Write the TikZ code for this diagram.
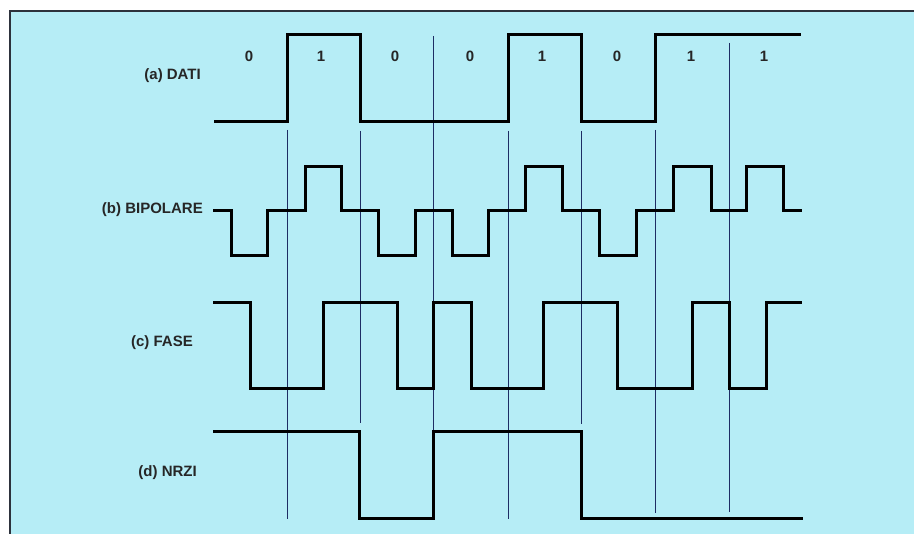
\documentclass[tikz,border=0pt]{standalone}
\usepackage{fontspec}
\setmainfont{Liberation Sans}
\definecolor{bgcyan}{RGB}{182,237,246}
\definecolor{gridblue}{RGB}{30,45,100}
\definecolor{framegray}{RGB}{45,50,60}
\begin{document}
\begin{tikzpicture}[x=1pt,y=-1pt,
  sig/.style={line width=3pt,line join=miter,line cap=butt,black},
  gridline/.style={line width=1pt,gridblue},
  lbl/.style={font=\fontsize{15}{18}\bfseries\selectfont,inner sep=0pt,anchor=east,text=black!85},
  bit/.style={font=\fontsize{15}{18}\bfseries\selectfont,inner sep=0pt,text=black!85}]
\useasboundingbox (0,0) rectangle (914,534);
\fill[white] (0,0) rectangle (914,534);
\fill[bgcyan] (10,11) rectangle (914,534);
\draw[framegray,line width=1.5pt] (10,540) -- (10,11) -- (920,11);
% grid lines
\draw[gridline] (287,130) -- (287,519);
\draw[gridline] (360,131) -- (360,423);
\draw[gridline] (433,36) -- (433,519);
\draw[gridline] (508,131) -- (508,519);
\draw[gridline] (581,131) -- (581,424);
\draw[gridline] (655,130) -- (655,513);
\draw[gridline] (729,43) -- (729,512);
% labels
\node[lbl] (la) at (201,76) {(a) DATI};
\node[lbl] (lb) at (203,210) {(b) BIPOLARE};
\node[lbl] (lc) at (193,343) {(c) FASE};
\node[lbl] (ld) at (197,473) {(d) NRZI};
% bits
\node[bit] (b0) at (249,56) {0};
\node[bit] (b1) at (321,56) {1};
\node[bit] (b2) at (395,56) {0};
\node[bit] (b3) at (470,56) {0};
\node[bit] (b4) at (542,56) {1};
\node[bit] (b5) at (617,56) {0};
\node[bit] (b6) at (691,56) {1};
\node[bit] (b7) at (764,56) {1};
% (a) data
\draw[sig] (214,122) -- (287,122) -- (287,35) -- (360,35) -- (360,122) -- (508,122) -- (508,35) -- (581,35) -- (581,122) -- (655,122) -- (655,35) -- (801,35);
% (b) bipolar
\draw[sig] (213,211) -- (231,211) -- (231,256) -- (267,256) -- (267,211) -- (305,211) -- (305,167) -- (341,167) -- (341,211) -- (378,211) -- (378,256) -- (415,256) -- (415,211) -- (452,211) -- (452,256) -- (488,256) -- (488,211) -- (525,211) -- (525,167) -- (562,167) -- (562,211) -- (599,211) -- (599,256) -- (636,256) -- (636,211) -- (673,211) -- (673,167) -- (711,167) -- (711,211) -- (746,211) -- (746,167) -- (783,167) -- (783,211) -- (802,211);
% (c) fase
\draw[sig] (213,303) -- (250,303) -- (250,389) -- (323,389) -- (323,303) -- (397,303) -- (397,389) -- (433,389) -- (433,303) -- (471,303) -- (471,389) -- (543,389) -- (543,303) -- (617,303) -- (617,389) -- (692,389) -- (692,303) -- (729,303) -- (729,389) -- (766,389) -- (766,303) -- (802,303);
% (d) nrzi
\draw[sig] (213,432) -- (359,432) -- (359,519) -- (433,519) -- (433,432) -- (581,432) -- (581,519) -- (803,519);
\end{tikzpicture}
\end{document}
